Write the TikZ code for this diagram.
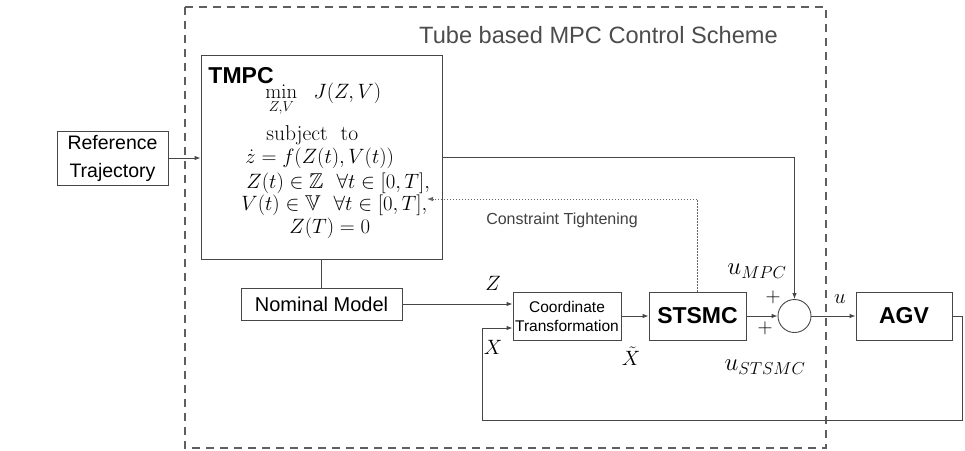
\documentclass[tikz,border=0pt]{standalone}
\usepackage[no-math]{fontspec}
\setsansfont{Liberation Sans}
\usepackage{amsmath,amssymb}
\usetikzlibrary{arrows.meta}
\definecolor{lncol}{RGB}{70,70,70}
\definecolor{dashcol}{RGB}{95,95,95}
\begin{document}
\begin{tikzpicture}[x=1pt,y=-1pt,line width=0.9pt,
  blk/.style={draw=lncol,line width=0.9pt,inner sep=0pt,font=\sffamily\fontsize{20}{22}\selectfont,align=center},
  bigblk/.style={blk,font=\sffamily\bfseries\fontsize{23}{25}\selectfont},
  arr/.style={draw=lncol,-{Latex[length=6pt,width=4.5pt]}},
  ln/.style={draw=lncol},
  mth/.style={inner sep=0pt,anchor=base west,font=\fontsize{21.5}{24}\selectfont},
  lbl/.style={inner sep=0pt,font=\fontsize{21}{23}\selectfont},
  ulbl/.style={inner sep=0pt,font=\fontsize{24}{26}\selectfont}]
\useasboundingbox (0,0) rectangle (965,450);
% dashed frame
\draw[dashcol,line width=1.8pt,dash pattern=on 8pt off 6pt] (185,7) rectangle (826,448);
\node[inner sep=0pt,anchor=base,text=black!70,font=\sffamily\fontsize{23.6}{25}\selectfont] (title) at (598.5,43) {Tube based MPC Control Scheme};
% blocks
\node[blk,minimum width=111pt,minimum height=54pt,font=\sffamily\fontsize{19.5}{28}\selectfont] (ref) at (112.5,158) {Reference\\Trajectory};
\node[blk,minimum width=241pt,minimum height=204pt] (tmpc) at (321.5,157) {};
\node[blk,minimum width=161pt,minimum height=32pt] (nom) at (321.5,304) {Nominal Model};
\node[blk,minimum width=108pt,minimum height=48pt,font=\sffamily\fontsize{15.5}{19}\selectfont] (ct) at (567,316) {Coordinate\\Transformation};
\node[bigblk,minimum width=97pt,minimum height=48pt] (st) at (697.5,316) {STSMC};
\node[draw=lncol,line width=0.9pt,circle,minimum size=33pt,inner sep=0pt] (sum) at (794.5,316) {};
\node[bigblk,minimum width=96pt,minimum height=48pt] (agv) at (904,316) {AGV};
% TMPC content
\node[inner sep=0pt,anchor=base west,font=\sffamily\bfseries\fontsize{23}{25}\selectfont] (tt) at (208,83) {TMPC};
\node[mth] (m1) at (265,98) {$\min\limits_{Z,V}\ \ J(Z,V)$};
\node[mth] (m2) at (266,140) {subject\ \ to};
\node[mth] (m3) at (245,163) {$\dot{z}=f(Z(t),V(t))$};
\node[mth] (m4) at (246,188) {$Z(t)\in\mathbb{Z}\ \ \forall t\in[0,T],$};
\node[mth] (m5) at (241,210) {$V(t)\in\mathbb{V}\ \ \forall t\in[0,T],$};
\node[mth] (m6) at (289,233) {$Z(T)=0$};
% coordinates
\coordinate (fbR) at (962,420);
\coordinate (fbL) at (482,420);
\coordinate (ctip) at (427,199);
% connectors
\draw[arr] (ref.east) -- (ref.east -| tmpc.west);
\draw[ln] (tmpc.south) -- (nom.north);
\draw[arr] (nom.east) -- (nom.east -| ct.west);
\draw[arr] (agv.east) -| (fbR) -- (fbL) |- ([yshift=-12pt]ct.west);
\draw[arr] (ct) -- (st);
\draw[arr] (st) -- (sum);
\draw[arr] (sum) -- (agv);
\draw[arr] (tmpc.east) -| (sum.north);
\draw[arr,dash pattern=on 1.5pt off 1.5pt,line width=0.8pt,draw=black!60] (st.north) |- (ctip);
% labels
\node[inner sep=0pt,text=black!75,font=\sffamily\fontsize{16}{18}\selectfont] (ctl) at (562,220) {Constraint Tightening};
\node[lbl] (lz) at (493,283) {$Z$};
\node[lbl] (lx) at (493,347) {$X$};
\node[lbl] (lxt) at (631,356) {$\tilde{X}$};
\node[ulbl] (lum) at (757,271) {$u_{MPC}$};
\node[ulbl] (lus) at (765,367) {$u_{STSMC}$};
\node[lbl] (p1) at (773,297) {$+$};
\node[lbl] (p2) at (765,328) {$+$};
\node[lbl] (lu) at (840,299) {$u$};
\end{tikzpicture}
\end{document}
